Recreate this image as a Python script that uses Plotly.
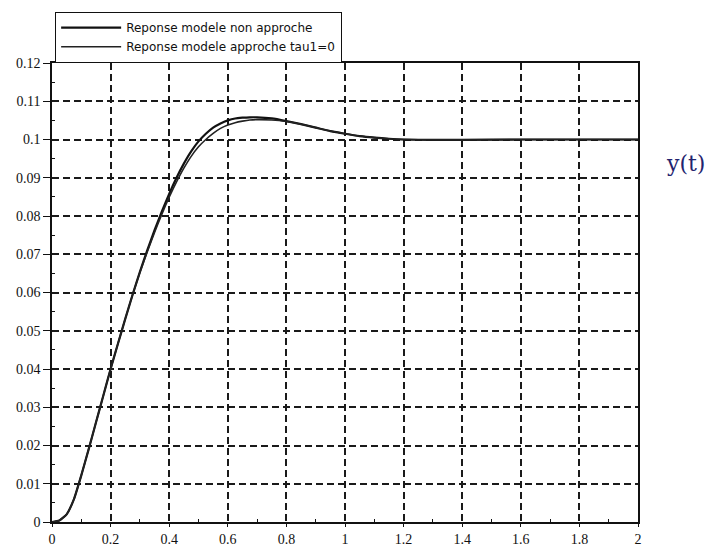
import plotly.graph_objects as go

# Time points (s) and responses
t_non = [0, 0.025, 0.05, 0.075, 0.1, 0.125, 0.15, 0.175, 0.2, 0.225, 0.25, 0.275, 0.3,
         0.325, 0.35, 0.375, 0.4, 0.425, 0.45, 0.475, 0.5, 0.525, 0.55, 0.575, 0.6,
         0.625, 0.65, 0.675, 0.7, 0.75, 0.8, 0.85, 0.9, 0.95, 1.0, 1.05, 1.1, 1.15,
         1.2, 1.3, 1.4, 1.6, 1.8, 2.0]
y_non = [0, 0.0004, 0.0020, 0.0060, 0.0122, 0.0190, 0.0260, 0.0330, 0.0400, 0.0466,
         0.0531, 0.0594, 0.0654, 0.0710, 0.0763, 0.0812, 0.0858, 0.0900, 0.0937,
         0.0969, 0.0995, 0.1015, 0.1031, 0.1042, 0.1050, 0.1055, 0.1057, 0.1058,
         0.1058, 0.1055, 0.1048, 0.1040, 0.1031, 0.1022, 0.1015, 0.1009, 0.1005,
         0.1002, 0.1000, 0.0999, 0.0999, 0.1000, 0.1000, 0.1000]

t_app = [0, 0.025, 0.05, 0.075, 0.1, 0.125, 0.15, 0.175, 0.2, 0.225, 0.25, 0.275, 0.3,
         0.325, 0.35, 0.375, 0.4, 0.425, 0.45, 0.475, 0.5, 0.525, 0.55, 0.575, 0.6,
         0.625, 0.65, 0.675, 0.7, 0.75, 0.8, 0.85, 0.9, 0.95, 1.0, 1.05, 1.1, 1.15,
         1.2, 1.3, 1.4, 1.6, 1.8, 2.0]
y_app = [0, 0.0004, 0.0020, 0.0060, 0.0122, 0.0190, 0.0260, 0.0330, 0.0400, 0.0466,
         0.0531, 0.0594, 0.0652, 0.0706, 0.0757, 0.0805, 0.0849, 0.0889, 0.0925,
         0.0956, 0.0981, 0.1000, 0.1016, 0.1029, 0.1038, 0.1044, 0.1048, 0.1051,
         0.1052, 0.1051, 0.1047, 0.1040, 0.1031, 0.1022, 0.1015, 0.1009, 0.1005,
         0.1002, 0.1000, 0.0999, 0.0999, 0.1000, 0.1000, 0.1000]

x_ticks = [0, 0.2, 0.4, 0.6, 0.8, 1.0, 1.2, 1.4, 1.6, 1.8, 2.0]
x_labels = ["0", "0.2", "0.4", "0.6", "0.8", "1", "1.2", "1.4", "1.6", "1.8", "2"]
y_ticks = [0, 0.01, 0.02, 0.03, 0.04, 0.05, 0.06, 0.07, 0.08, 0.09, 0.1, 0.11, 0.12]
y_labels = ["0", "0.01", "0.02", "0.03", "0.04", "0.05", "0.06", "0.07", "0.08",
            "0.09", "0.1", "0.11", "0.12"]
x_minor = [0.1, 0.3, 0.5, 0.7, 0.9, 1.1, 1.3, 1.5, 1.7, 1.9]
y_minor = [0.005, 0.015, 0.025, 0.035, 0.045, 0.055, 0.065, 0.075, 0.085, 0.095,
           0.105, 0.115]

names = ["Reponse modele non approche", "Reponse modele approche tau1=0"]

fig = go.Figure()
fig.add_trace(go.Scatter(x=t_non, y=y_non, mode="lines", name=names[0],
                         line=dict(color="#111111", width=2.2, shape="spline", smoothing=0.5)))
fig.add_trace(go.Scatter(x=t_app, y=y_app, mode="lines", name=names[1],
                         line=dict(color="#222222", width=1.6, shape="spline", smoothing=0.5)))

axis_common = dict(
    showline=True, mirror=True, linecolor="#111111", linewidth=1.5,
    showgrid=True, gridcolor="#1a1a1a", gridwidth=1.6, griddash="7px,4px",
    zeroline=False, ticks="outside", tickcolor="#111111",
    automargin=False,
    tickfont=dict(family="Liberation Serif", size=14, color="#111111"),
    minor=dict(ticks="inside", ticklen=3, tickcolor="#111111", showgrid=False),
)

fig.update_xaxes(range=[0, 2], tickvals=x_ticks, ticktext=x_labels, ticklen=3,
                 **axis_common)
fig.update_yaxes(range=[0, 0.12], tickvals=y_ticks, ticktext=y_labels, ticklen=7,
                 **axis_common)
fig.update_xaxes(minor=dict(tickvals=x_minor))
fig.update_yaxes(minor=dict(tickvals=y_minor))

fig.add_annotation(text="y(t)", xref="paper", yref="paper", x=1.045, y=0.78,
                   xanchor="left", yanchor="middle", showarrow=False,
                   font=dict(family="DejaVu Serif", size=22, color="#23236e"))

fig.update_layout(
    width=722, height=552,
    margin=dict(l=52, r=84, t=63, b=30),
    paper_bgcolor="white", plot_bgcolor="white",
    showlegend=True,
    legend=dict(x=0.005, y=1.0, xanchor="left", yanchor="bottom",
                bordercolor="#111111", borderwidth=1.2, bgcolor="white",
                itemwidth=60, tracegroupgap=0,
                font=dict(family="DejaVu Sans", size=12, color="#111111")),
)

fig.write_html("out.html")
